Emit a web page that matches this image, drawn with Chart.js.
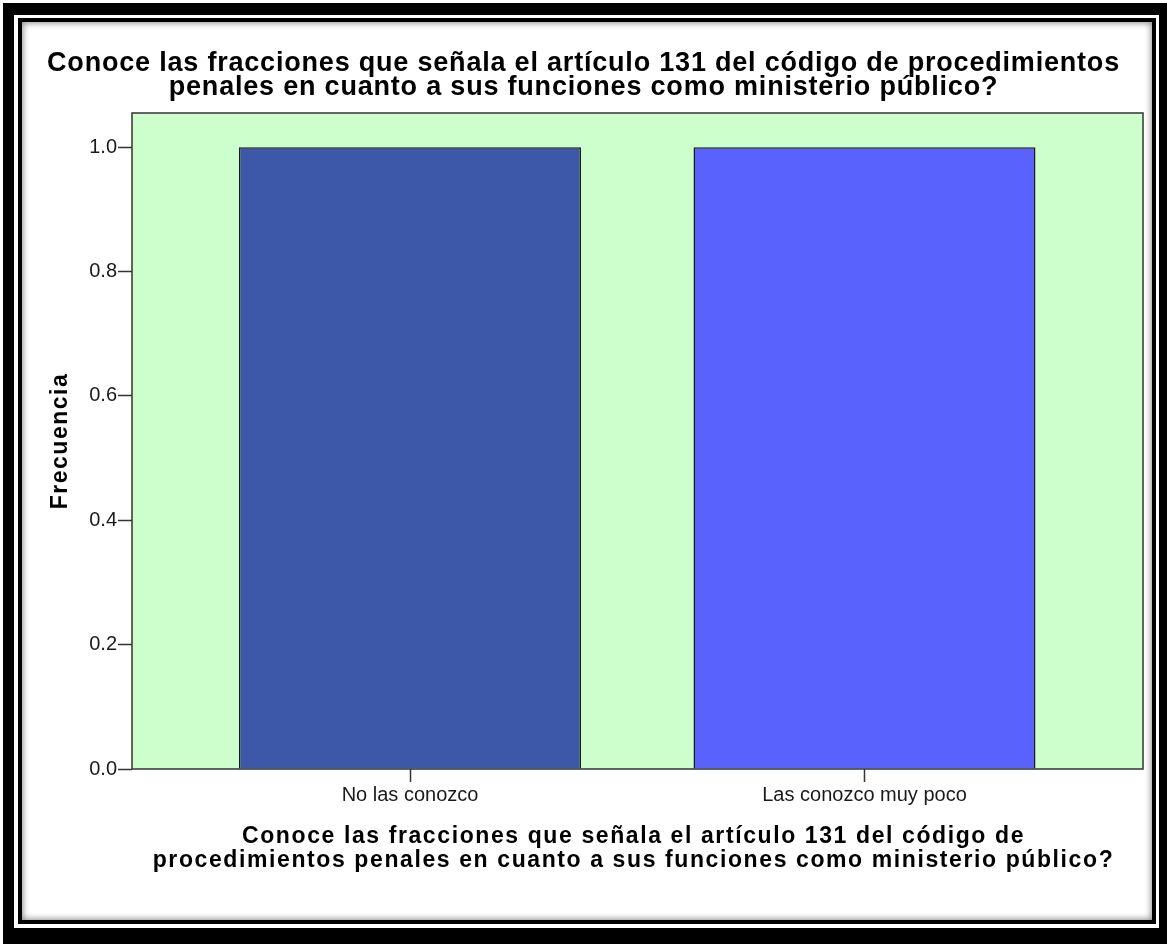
<!DOCTYPE html>
<html>
<head>
<meta charset="utf-8">
<script src="https://cdn.jsdelivr.net/npm/chart.js@4/dist/chart.umd.min.js"></script>
<style>
  html, body { margin: 0; padding: 0; background: #fff; }
  #marco { position: absolute; left: 3px; top: 3px; width: 1164px; height: 941px; box-sizing: border-box;
           border-style: solid; border-color: #000; border-width: 12px 8px 16px 11px; }
  #interior { position: absolute; left: 18px; top: 18px; width: 1138px; height: 906px; box-sizing: border-box;
              border: 4px solid #000; background: #fff; box-shadow: inset 0 0 6px 1px #888; }
  #contenedor { position: absolute; left: 0; top: 0; width: 1167px; height: 944px; }
</style>
</head>
<body>
<div id="marco"></div>
<div id="interior"></div>
<div id="contenedor"><canvas id="grafico"></canvas></div>
<script>
// datos
const categorias = ['No las conozco', 'Las conozco muy poco'];
const frecuencias = [1, 1];
const colores = ['#3d58a9', '#5a62fe'];
const ticksY = [0, 0.2, 0.4, 0.6, 0.8, 1.0];

const titulo = ['Conoce las fracciones que señala el artículo 131 del código de procedimientos',
                'penales en cuanto a sus funciones como ministerio público?'];
const tituloX = ['Conoce las fracciones que señala el artículo 131 del código de',
                 'procedimientos penales en cuanto a sus funciones como ministerio público?'];
const tituloY = 'Frecuencia';

const fuente = '"Liberation Sans", Arial, sans-serif';

// fondo verde y borde del área de trazado
const fondoArea = {
    id: 'fondoArea',
    beforeDraw(chart) {
        const { ctx, chartArea: a } = chart;
        ctx.save();
        ctx.fillStyle = '#ccffcc';
        ctx.fillRect(a.left, a.top, a.right - a.left, a.bottom - a.top);
        ctx.restore();
    },
    afterDatasetsDraw(chart) {
        const { ctx, chartArea: a } = chart;
        ctx.save();
        ctx.strokeStyle = '#333';
        ctx.lineWidth = 1.5;
        ctx.strokeRect(a.left, a.top, a.right - a.left, a.bottom - a.top);
        ctx.restore();
    }
};

// títulos (con espaciado entre letras, que el plugin title no admite)
const titulos = {
    id: 'titulos',
    afterDraw(chart) {
        const { ctx, chartArea: a } = chart;
        ctx.save();
        ctx.fillStyle = '#000';
        ctx.textAlign = 'center';
        ctx.textBaseline = 'middle';

        ctx.font = 'bold 27px ' + fuente;
        ctx.letterSpacing = '0.8px';
        titulo.forEach((linea, i) => ctx.fillText(linea, chart.width / 2, 64 + i * 24));

        ctx.font = 'bold 23px ' + fuente;
        ctx.letterSpacing = '1.6px';
        const cx = (a.left + a.right) / 2 - 4;
        tituloX.forEach((linea, i) => ctx.fillText(linea, cx, 837 + i * 24));

        ctx.letterSpacing = '1.5px';
        ctx.translate(61, (a.top + a.bottom) / 2);
        ctx.rotate(-Math.PI / 2);
        ctx.fillText(tituloY, 0, 0);
        ctx.restore();
    }
};

let myChart;

function crearGrafico() {
    const ctx = document.getElementById('grafico').getContext('2d');
    myChart = new Chart(ctx, {
        type: 'bar',
        data: {
            datasets: [{
                data: frecuencias.map((v, i) => ({ x: i, y: v })),
                backgroundColor: colores,
                borderColor: '#1a1a1a',
                borderWidth: 1.5,
                barPercentage: 0.7525,
                categoryPercentage: 1
            }]
        },
        options: {
            responsive: true,
            maintainAspectRatio: false,
            animation: false,
            layout: { padding: { left: 24, right: 24, top: 113, bottom: 24 } },
            plugins: {
                legend: { display: false },
                tooltip: { enabled: false },
                title: { display: false }
            },
            scales: {
                x: {
                    type: 'linear',
                    min: -0.6117,
                    max: 1.6128,
                    offset: false,
                    afterFit: (s) => { s.height = 151; },
                    afterBuildTicks: (s) => { s.ticks = categorias.map((c, i) => ({ value: i })); },
                    grid: { drawOnChartArea: false, offset: false, tickLength: 13, tickColor: '#333', tickWidth: 1.5 },
                    border: { display: false },
                    ticks: {
                        callback: (v) => categorias[v],
                        color: '#1a1a1a',
                        padding: 1,
                        maxRotation: 0,
                        font: { family: fuente, size: 20 }
                    }
                },
                y: {
                    min: 0,
                    max: 1.055,
                    afterFit: (s) => { s.width = 108; },
                    afterBuildTicks: (s) => { s.ticks = ticksY.map(v => ({ value: v })); },
                    grid: { drawOnChartArea: false, tickLength: 14, tickColor: '#333', tickWidth: 1.5 },
                    border: { display: false },
                    ticks: {
                        callback: (v) => v.toFixed(1),
                        color: '#1a1a1a',
                        padding: 1,
                        font: { family: fuente, size: 20 }
                    }
                }
            }
        },
        plugins: [fondoArea, titulos]
    });
}

crearGrafico();
</script>
</body>
</html>
